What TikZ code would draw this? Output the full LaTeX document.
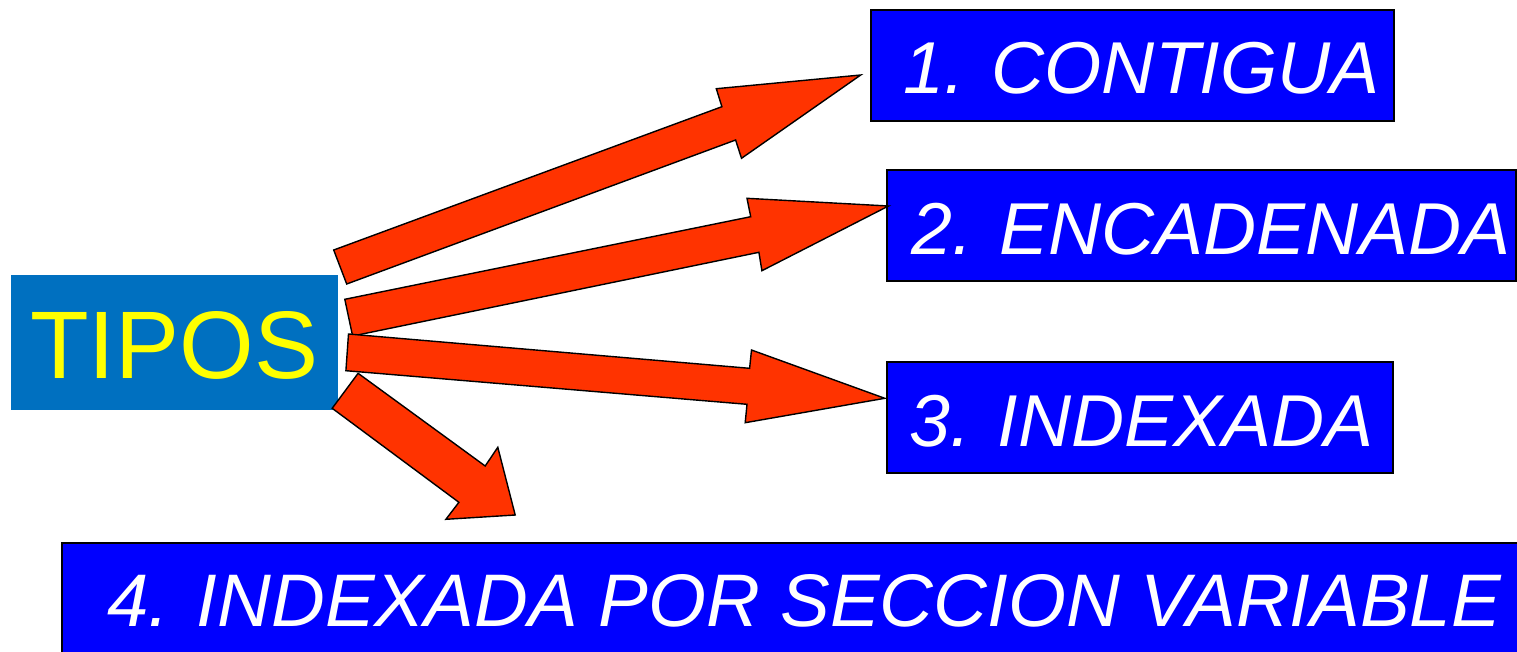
\documentclass[tikz,border=0pt]{standalone}
\usepackage{fontspec}
\setmainfont{Liberation Sans}
\definecolor{tiposblue}{RGB}{0,112,192}
\definecolor{boxblue}{RGB}{0,0,255}
\definecolor{arrowred}{RGB}{255,51,0}
\definecolor{tiposyellow}{RGB}{255,255,0}
\begin{document}
\begin{tikzpicture}[x=1pt,y=-1pt,
  typebox/.style={rectangle,draw=black,fill=boxblue,line width=2pt,inner sep=0pt},
  typetext/.style={anchor=base west,inner sep=0pt,text=white,font=\fontsize{73.5}{78}\selectfont\itshape},
  blockarrow/.style={draw=black,fill=arrowred,line width=1.4pt,line join=miter}]
\useasboundingbox (0,0) rectangle (1517,651);
\clip (0,0) rectangle (1517,651);
\fill[white] (0,0) rectangle (1517,651);
% source box
\node[rectangle,fill=tiposblue,inner sep=0pt,minimum width=327pt,minimum height=135pt] (tipos) at (174.5,342.5) {};
\node[anchor=base west,inner sep=0pt,text=tiposyellow,font=\fontsize{96}{100}\selectfont] (tiposlbl) at (30,378) {TIPOS};
% target boxes
\node[typebox,minimum width=523pt,minimum height=111pt] (b1) at (1132.5,65.5) {};
\node[typebox,minimum width=629.5pt,minimum height=111pt] (b2) at (1201.25,225.5) {};
\node[typebox,minimum width=506.5pt,minimum height=111pt] (b3) at (1139.75,417.5) {};
\node[typebox,minimum width=1498pt,minimum height=157pt] (b4) at (811,621.5) {};
\node[typetext] (t1) at (903,93) {1. CONTIGUA};
\node[typetext] (t2) at (911,254) {2. ENCADENADA};
\node[typetext] (t3) at (909,446) {3. INDEXADA};
\node[typetext,font=\fontsize{74.5}{78}\selectfont\itshape] (t4) at (107,626) {4. INDEXADA POR SECCION VARIABLE};
% block arrows
\draw[blockarrow] (333.7,250) -- (721.9,106.7) -- (716.3,88.7) -- (860.7,75) -- (741.5,158.3) -- (735.6,140) -- (346.7,284) -- cycle;
\draw[blockarrow] (344.8,299.3) -- (750.7,216.7) -- (747,198.3) -- (888.5,206) -- (761.9,270.7) -- (758.9,252.3) -- (352.6,336) -- cycle;
\draw[blockarrow] (348.5,334) -- (749.6,368.3) -- (751.5,350) -- (884.8,398.3) -- (745.2,422.7) -- (747,404.3) -- (345.9,370.7) -- cycle;
\draw[blockarrow] (358.1,373.3) -- (485.2,466) -- (497.8,447.3) -- (515.2,515) -- (445.9,519.3) -- (458.9,502.3) -- (332.2,408.3) -- cycle;
\end{tikzpicture}
\end{document}
